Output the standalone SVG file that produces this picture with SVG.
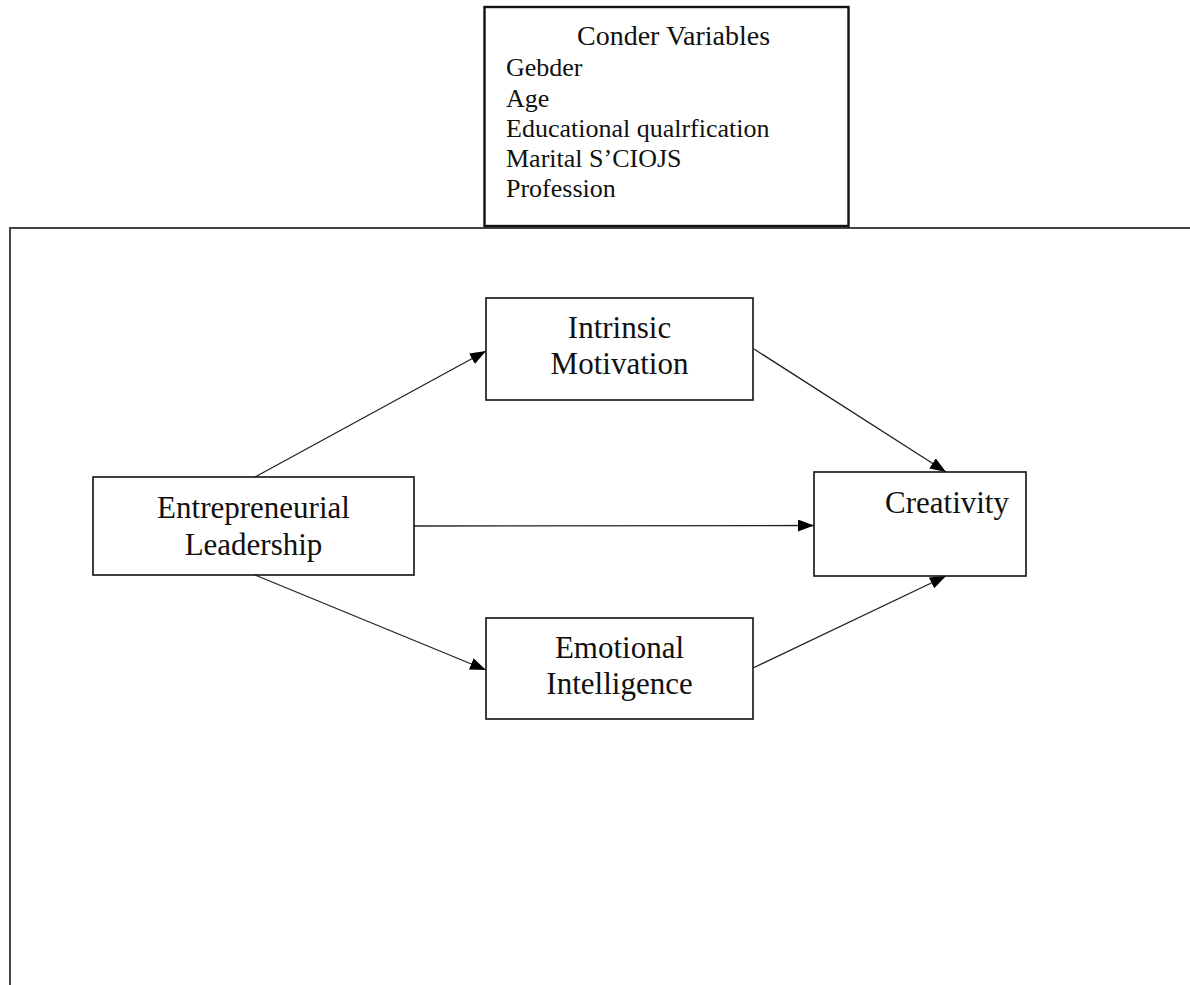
<svg xmlns="http://www.w3.org/2000/svg" width="1190" height="985" viewBox="0 0 1190 985">
<style>
.box{fill:#fff;stroke:#111;stroke-width:1.6}
.t{font-family:"Liberation Serif","Times New Roman",serif;fill:#111;font-size:31px}
.s{font-family:"Liberation Serif","Times New Roman",serif;fill:#111;font-size:26px}
.c{stroke:#222;stroke-width:1.3;fill:none;marker-end:url(#ah)}
</style>
<defs>
<marker id="ah" viewBox="0 0 16 12" refX="16" refY="6" markerWidth="16" markerHeight="12" markerUnits="userSpaceOnUse" orient="auto">
<path d="M0,0 L16,6 L0,12 Z" fill="#000"/>
</marker>
</defs>
<rect width="1190" height="985" fill="#fff"/>
<g id="frame">
<path d="M10,985 L10,228 L1190,228" fill="none" stroke="#444" stroke-width="2"/>
</g>
<g id="control">
<rect x="484.5" y="7" width="364" height="219" fill="#fff" stroke="#111" stroke-width="2.4"/>
<text class="s" x="577" y="45" style="font-size:28px">Conder Variables</text>
<text class="s" x="506" y="76">Gebder</text>
<text class="s" x="506" y="106.5">Age</text>
<text class="s" x="506" y="137">Educational qualrfication</text>
<text class="s" x="506" y="167">Marital S’CIOJS</text>
<text class="s" x="506" y="197">Profession</text>
</g>
<g id="connectors">
<line class="c" x1="255" y1="477" x2="486" y2="351"/>
<line class="c" x1="414" y1="526" x2="814" y2="525.5"/>
<line class="c" x1="255" y1="575" x2="486" y2="670"/>
<line class="c" x1="754" y1="349" x2="946" y2="472"/>
<line class="c" x1="753" y1="668" x2="946" y2="576"/>
</g>
<g id="entrepreneurial">
<rect class="box" x="93" y="477" width="321" height="98"/>
<text class="t" x="253.5" y="517.5" text-anchor="middle">Entrepreneurial</text>
<text class="t" x="253.5" y="555" text-anchor="middle">Leadership</text>
</g>
<g id="intrinsic">
<rect class="box" x="486" y="298" width="267" height="102"/>
<text class="t" x="619.5" y="338" text-anchor="middle">Intrinsic</text>
<text class="t" x="619.5" y="374" text-anchor="middle">Motivation</text>
</g>
<g id="emotional">
<rect class="box" x="486" y="618" width="267" height="101"/>
<text class="t" x="619.5" y="658" text-anchor="middle">Emotional</text>
<text class="t" x="619.5" y="694" text-anchor="middle">Intelligence</text>
</g>
<g id="creativity">
<rect class="box" x="814" y="472" width="212" height="104"/>
<text class="t" x="885" y="513">Creativity</text>
</g>
</svg>
